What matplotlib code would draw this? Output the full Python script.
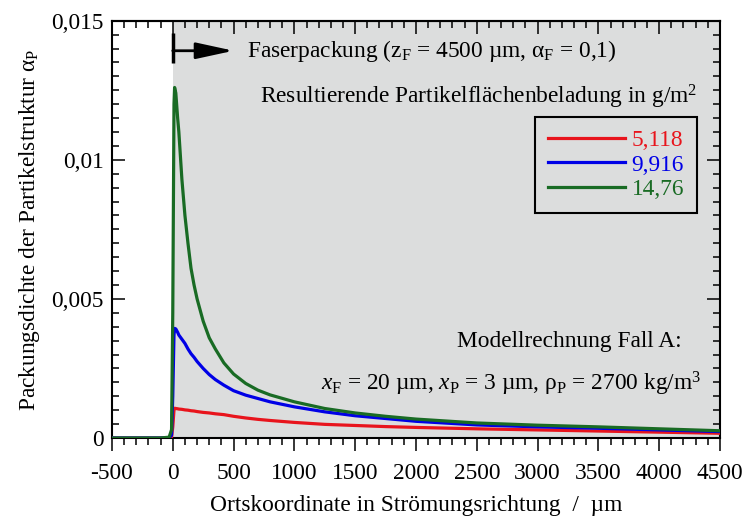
import matplotlib
matplotlib.use('Agg')
import matplotlib.pyplot as plt
from matplotlib.ticker import MultipleLocator, FuncFormatter

# Werte
x_um = [-500, -100, -30, -10, 0, 10, 15, 25, 40, 50, 75, 100, 125, 150, 175, 200, 250,
        300, 350, 420, 500, 600, 700, 800, 1000, 1250, 1500, 1750, 2000, 2500, 3000,
        3500, 4000, 4500]
alpha_14_76 = [0, 0, 0.00003, 0.0003, 0.0045, 0.0120, 0.0126, 0.0124, 0.0115, 0.0110,
               0.0093, 0.0080, 0.0070, 0.0061, 0.0055, 0.0050, 0.0042, 0.0036, 0.0032,
               0.0027, 0.0023, 0.00196, 0.00172, 0.00155, 0.0013, 0.00106, 0.0009,
               0.00078, 0.00068, 0.00054, 0.00046, 0.0004, 0.00033, 0.00026]
alpha_9_916 = [0, 0, 0.00001, 0.0001, 0.0015, 0.0037, 0.00394, 0.00392, 0.0038, 0.0037,
               0.00355, 0.0034, 0.0032, 0.00303, 0.0029, 0.00275, 0.0025, 0.00228,
               0.0021, 0.0019, 0.0017, 0.00154, 0.00142, 0.0013, 0.00112, 0.00094,
               0.0008, 0.0007, 0.0006, 0.00047, 0.0004, 0.00035, 0.00029, 0.00023]
alpha_5_118 = [0, 0, 0, 0.00002, 0.0004, 0.001, 0.00107, 0.00106, 0.00105, 0.00104,
               0.00103, 0.00101, 0.001, 0.00098, 0.00097, 0.00095, 0.00092, 0.0009,
               0.00087, 0.00084, 0.00078, 0.00072, 0.00067, 0.00063, 0.00056, 0.00049,
               0.00045, 0.00041, 0.00038, 0.00033, 0.00029, 0.00025, 0.00021, 0.00017]
labels = ['5,118', '9,916', '14,76']
colors = ['#e8141c', '#0000e6', '#196b24']

plt.rcParams['font.family'] = ['Liberation Serif', 'DejaVu Serif']
plt.rcParams['mathtext.fontset'] = 'custom'
plt.rcParams['mathtext.rm'] = 'Liberation Serif'
plt.rcParams['mathtext.it'] = 'Liberation Serif:italic'
plt.rcParams['font.size'] = 16.8
plt.rcParams['axes.unicode_minus'] = False

fig = plt.figure(figsize=(7.44, 5.2), dpi=100)
ax = fig.add_axes([0.1505, 0.1577, 0.8172, 0.8025])

# Faserpackung grau hinterlegt
ax.axvspan(0, 4500, color='#dcdddd', lw=0, zorder=0)

for y, lab, c in zip([alpha_5_118, alpha_9_916, alpha_14_76], labels, colors):
    ax.plot(x_um, y, color=c, lw=2.3, label=lab, zorder=3)

ax.set_xlim(-500, 4500)
ax.set_ylim(0, 0.015)
ax.xaxis.set_major_locator(MultipleLocator(500))
ax.xaxis.set_minor_locator(MultipleLocator(100))
ax.yaxis.set_major_locator(MultipleLocator(0.005))
ax.yaxis.set_minor_locator(MultipleLocator(0.0005))
ax.yaxis.set_major_formatter(FuncFormatter(lambda v, p: ('%g' % round(v, 4)).replace('.', ',')))

for s in ax.spines.values():
    s.set_linewidth(1.5)
ax.tick_params(axis='x', which='both', direction='out', bottom=True, top=False, width=1.1, pad=8.5)
ax.tick_params(axis='x', which='major', length=9.5)
ax.tick_params(axis='x', which='minor', length=5)
ax.tick_params(axis='y', which='both', direction='in', left=True, right=True, width=1.1, pad=6)
ax.tick_params(axis='y', which='major', length=9.5)
ax.tick_params(axis='y', which='minor', length=5)
# obere Ticks nach innen
top = ax.secondary_xaxis('top')
top.xaxis.set_major_locator(MultipleLocator(500))
top.xaxis.set_minor_locator(MultipleLocator(100))
top.tick_params(which='both', direction='in', width=1.1, labeltop=False)
top.tick_params(which='major', length=9.5)
top.tick_params(which='minor', length=5)
top.spines['top'].set_linewidth(1.5)

ax.set_xlabel('Ortskoordinate in Strömungsrichtung  /  µm', labelpad=8)
ax.set_ylabel('Packungsdichte der Partikelstruktur α$_\\mathregular{P}$', labelpad=7)

# Pfeil fuer die Faserpackung
ax.plot([0, 0], [0.01348, 0.01456], color='k', lw=2.5, solid_capstyle='butt')
ax.annotate('', xy=(500, 0.01392), xytext=(0, 0.01392),
            arrowprops=dict(arrowstyle='-|>,head_length=2.3,head_width=0.5',
                            mutation_scale=10, lw=2, color='k', shrinkA=0, shrinkB=0))
ax.text(0.222, 0.914, 'Faserpackung (z$_\\mathregular{F}$ = 4500 µm, α$_\\mathregular{F}$ = 0,1)',
        transform=ax.transAxes, va='baseline', ha='left')
ax.text(0.962, 0.802, 'Resultierende Partikelflächenbeladung in g/m$^\\mathregular{2}$',
        transform=ax.transAxes, va='baseline', ha='right')
ax.text(0.937, 0.219, 'Modellrechnung Fall A:', transform=ax.transAxes, va='baseline', ha='right')
ax.text(0.970, 0.115,
        '$\\mathit{x}_\\mathregular{F}$ = 20 µm, $\\mathit{x}_\\mathregular{P}$ = 3 µm, '
        'ρ$_\\mathregular{P}$ = 2700 kg/m$^\\mathregular{3}$',
        transform=ax.transAxes, va='baseline', ha='right')

leg = ax.legend(loc='upper right', bbox_to_anchor=(0.962, 0.769), fancybox=False,
                edgecolor='k', facecolor='none', framealpha=1, labelcolor='linecolor',
                handlelength=3.3, handletextpad=0.3, labelspacing=0.13, borderpad=0.55,
                borderaxespad=0)
leg.get_frame().set_linewidth(1.5)

fig.savefig('out.png', dpi=100)
